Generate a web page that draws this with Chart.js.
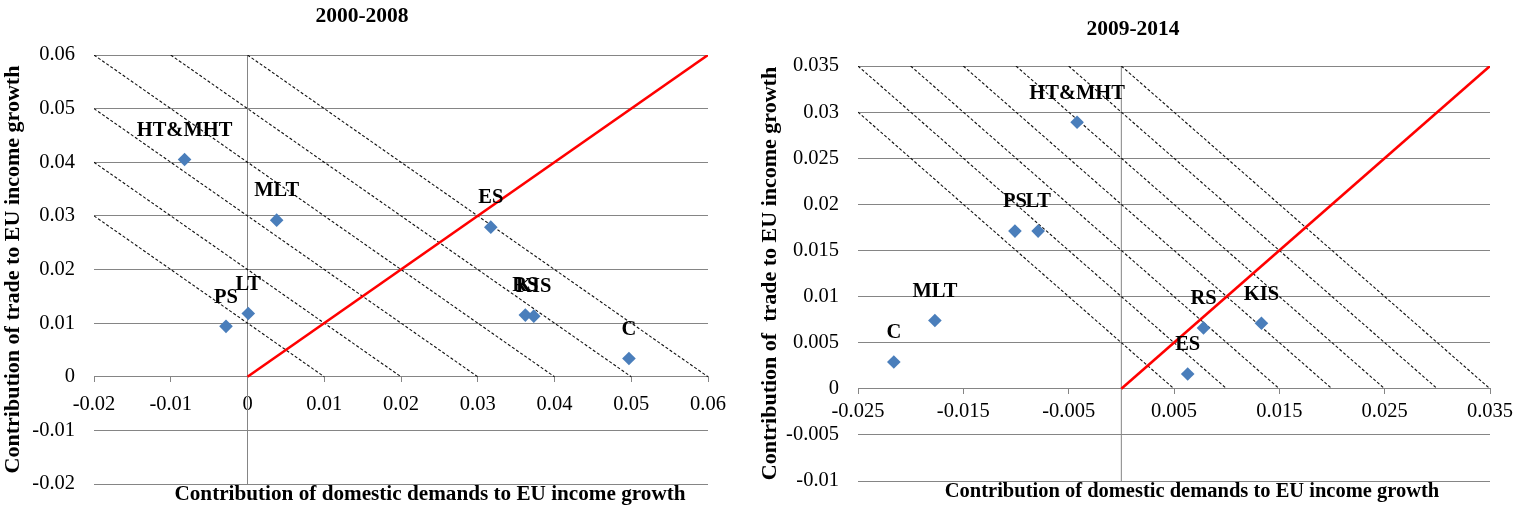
<!DOCTYPE html>
<html>
<head>
<meta charset="utf-8">
<script src="https://cdn.jsdelivr.net/npm/chart.js@4.4.1/dist/chart.umd.min.js"></script>
<style>
  html, body { margin: 0; padding: 0; background: #fff; width: 1514px; height: 510px; overflow: hidden; }
  .panel { position: absolute; top: 0; height: 510px; }
</style>
</head>
<body>
<div class="panel" style="left:0;width:730px"><canvas id="chartA" width="730" height="510"></canvas></div>
<div class="panel" style="left:740px;width:774px"><canvas id="chartB" width="774" height="510"></canvas></div>
<script>
// ---- 2000-2008 ----
const sectorsA  = ['HT&MHT', 'MLT', 'ES', 'RS', 'KIS', 'C', 'PS', 'LT'];
const domesticA = [-0.0082, 0.0038, 0.0317, 0.0362, 0.0373, 0.0497, -0.0028, 0.0001];
const tradeA    = [0.0405, 0.0292, 0.0279, 0.0115, 0.0113, 0.0034, 0.0094, 0.0118];
const xTicksA   = [-0.02, -0.01, 0, 0.01, 0.02, 0.03, 0.04, 0.05, 0.06];
const yTicksA   = [-0.02, -0.01, 0, 0.01, 0.02, 0.03, 0.04, 0.05, 0.06];
const isoLevelsA = [0.01, 0.02, 0.03, 0.04, 0.05, 0.06];

// ---- 2009-2014 ----
const sectorsB  = ['HT&MHT', 'PS', 'LT', 'MLT', 'C', 'RS', 'KIS', 'ES'];
const domesticB = [-0.0042, -0.0101, -0.0079, -0.0177, -0.0216, 0.0078, 0.0133, 0.0063];
const tradeB    = [0.0289, 0.0171, 0.0171, 0.0074, 0.0029, 0.0066, 0.0071, 0.0016];
const xTicksB   = [-0.025, -0.015, -0.005, 0.005, 0.015, 0.025, 0.035];
const yTicksB   = [-0.01, -0.005, 0, 0.005, 0.01, 0.015, 0.02, 0.025, 0.03, 0.035];
const isoLevelsB = [0.005, 0.01, 0.015, 0.02, 0.025, 0.03, 0.035];

const SERIF = "'Liberation Serif', 'Times New Roman', serif";
const GRID = '#858585';

function fmt(v) { return String(+(+v).toFixed(4)); }

function buildChart(cfg) {
  const xMin = cfg.xTicks[0], xMax = cfg.xTicks[cfg.xTicks.length - 1];
  const yMin = cfg.yTicks[0], yMax = cfg.yTicks[cfg.yTicks.length - 1];

  const datasets = [];
  // sector markers
  datasets.push({
    label: 'sectors',
    data: cfg.xs.map((x, i) => ({ x: x, y: cfg.ys[i] })),
    pointStyle: 'rectRot',
    pointRadius: 6.8,
    pointHoverRadius: 6.8,
    backgroundColor: '#4A7EBB',
    borderColor: '#4A7EBB',
    borderWidth: 0,
    showLine: false,
    order: 0
  });
  // 45-degree line
  const diag = Math.min(xMax, yMax);
  datasets.push({
    label: 'equal',
    data: [{ x: 0, y: 0 }, { x: diag, y: diag }],
    showLine: true, borderColor: '#FF0000', borderWidth: 2.6,
    pointRadius: 0, order: 1
  });
  // iso-growth lines: domestic + trade = level
  cfg.levels.forEach(c => {
    const x0 = Math.max(xMin, c - yMax);
    datasets.push({
      label: 'iso',
      data: [{ x: x0, y: c - x0 }, { x: c, y: 0 }],
      showLine: true, borderColor: '#111', borderWidth: 1.1, borderDash: [3, 2],
      pointRadius: 0, order: 2
    });
  });
  // vertical axis through zero
  datasets.push({
    label: 'zero',
    data: [{ x: 0, y: yMin }, { x: 0, y: yMax }],
    showLine: true, borderColor: GRID, borderWidth: 1,
    pointRadius: 0, order: 3
  });

  const textPlugin = {
    id: 'texts',
    afterDatasetsDraw(chart) {
      const ctx = chart.ctx;
      const meta = chart.getDatasetMeta(0);
      ctx.save();
      ctx.fillStyle = '#000';
      ctx.font = 'bold ' + cfg.labelSize + 'px ' + SERIF;
      ctx.textAlign = 'center';
      ctx.textBaseline = 'middle';
      meta.data.forEach((pt, i) => {
        ctx.fillText(cfg.names[i], pt.x, pt.y - 29);
      });
      ctx.restore();
    },
    afterDraw(chart) {
      const ctx = chart.ctx;
      const a = chart.chartArea;
      ctx.save();
      ctx.fillStyle = '#000';
      ctx.textAlign = 'center';
      ctx.textBaseline = 'middle';
      ctx.font = 'bold ' + cfg.titleSize + 'px ' + SERIF;
      ctx.fillText(cfg.title, cfg.titleX, cfg.titleY);
      ctx.font = 'bold ' + cfg.xTitleSize + 'px ' + SERIF;
      ctx.fillText('Contribution of domestic demands to EU income growth',
        cfg.xTitleX, a.bottom + 11);
      ctx.restore();
    }
  };

  return new Chart(document.getElementById(cfg.id), {
    type: 'scatter',
    data: { datasets: datasets },
    options: {
      responsive: false,
      animation: false,
      events: [],
      layout: { padding: cfg.padding },
      plugins: { legend: { display: false }, tooltip: { enabled: false }, title: { display: false } },
      scales: {
        x: {
          type: 'linear',
          position: { y: 0 },
          min: xMin, max: xMax,
          afterBuildTicks: s => { s.ticks = cfg.xTicks.map(v => ({ value: v })); },
          afterFit: s => { s.paddingLeft = 0; s.paddingRight = 0; s.paddingTop = 0; s.paddingBottom = 0; },
          grid: { drawOnChartArea: false, drawTicks: true, tickLength: 5, color: GRID },
          border: { display: true, color: GRID, width: 1 },
          ticks: { font: { family: SERIF, size: cfg.tickSize }, color: '#000', padding: cfg.xTickPad, maxRotation: 0, autoSkip: false, callback: fmt }
        },
        y: {
          type: 'linear',
          position: 'left',
          min: yMin, max: yMax,
          afterBuildTicks: s => { s.ticks = cfg.yTicks.map(v => ({ value: v })); },
          afterFit: s => { s.width = cfg.yWidth; s.paddingTop = 0; s.paddingBottom = 0; },
          grid: { drawTicks: false, color: GRID, lineWidth: 1 },
          border: { display: false },
          ticks: { font: { family: SERIF, size: cfg.tickSize }, color: '#000', padding: 19, callback: fmt },
          title: {
            display: true, text: cfg.yTitle, color: '#000',
            font: { family: SERIF, size: cfg.yTitleSize, weight: 'bold' },
            padding: { top: 0, bottom: 0 }
          }
        }
      }
    },
    plugins: [textPlugin]
  });
}

buildChart({
  id: 'chartA', title: '2000-2008', titleX: 362, titleY: 16,
  names: sectorsA, xs: domesticA, ys: tradeA,
  xTicks: xTicksA, yTicks: yTicksA, levels: isoLevelsA,
  padding: { left: 0, right: 22, top: 55, bottom: 26 }, yWidth: 94,
  xTitleX: 430, xTickPad: 11,
  tickSize: 20.5, titleSize: 21.5, xTitleSize: 21.2, yTitleSize: 22, labelSize: 20.5,
  yTitle: 'Contribution of trade to EU income growth'
});

buildChart({
  id: 'chartB', title: '2009-2014', titleX: 393, titleY: 29.5,
  names: sectorsB, xs: domesticB, ys: tradeB,
  xTicks: xTicksB, yTicks: yTicksB, levels: isoLevelsB,
  padding: { left: 17, right: 24, top: 66, bottom: 29 }, yWidth: 101,
  xTitleX: 452, xTickPad: 6,
  tickSize: 20.5, titleSize: 21.5, xTitleSize: 20.5, yTitleSize: 22, labelSize: 20.5,
  yTitle: 'Contribution of  trade to EU income growth'
});
</script>
</body>
</html>
